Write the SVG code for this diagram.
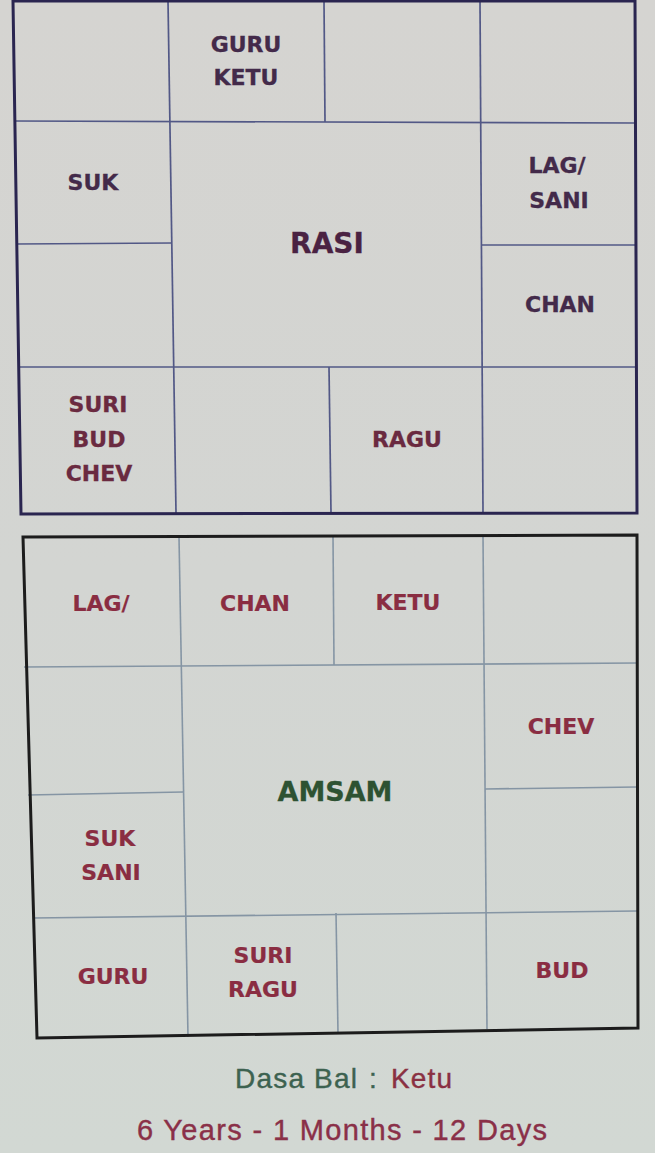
<svg xmlns="http://www.w3.org/2000/svg" width="655" height="1153" viewBox="0 0 655 1153">
<defs>
<linearGradient id="bg" x1="0" y1="0" x2="0" y2="1">
<stop offset="0" stop-color="#d5d4d1"/>
<stop offset="0.5" stop-color="#d3d5d2"/>
<stop offset="1" stop-color="#d2d8d3"/>
</linearGradient>
<style>
.outerA{fill:none;stroke:#2a2550;stroke-width:3}
.outerB{fill:none;stroke:#1c1c1c;stroke-width:3}
.gridA line{stroke:#525886;stroke-width:1.7}
.gridB line{stroke:#8595a4;stroke-width:1.6}
text{font-family:"DejaVu Sans","Verdana",sans-serif;font-weight:bold;text-anchor:middle}
.pa{font-size:22px;fill:#432a4a;stroke:#432a4a;stroke-width:0.3}
.pb{font-size:22px;fill:#6a2a40;stroke:#6a2a40;stroke-width:0.3}
.pc{font-size:22px;fill:#8a2d42;stroke:#8a2d42;stroke-width:0.2}
.foot{font-family:"Liberation Sans",Arial,sans-serif;font-weight:normal;text-anchor:start;stroke-width:0.4}
</style>
</defs>
<rect width="655" height="1153" fill="url(#bg)"/>

<!-- RASI chart -->
<g id="rasi-grid" class="gridA">
<line x1="168" y1="1" x2="176" y2="513"/>
<line x1="480" y1="1" x2="483" y2="513"/>
<line x1="324" y1="1" x2="325" y2="122"/>
<line x1="329" y1="367" x2="331" y2="513"/>
<line x1="14" y1="121" x2="636" y2="123"/>
<line x1="18" y1="367" x2="637" y2="367"/>
<line x1="16" y1="244" x2="172" y2="243"/>
<line x1="481" y1="245" x2="637" y2="245"/>
</g>
<polygon id="rasi-border" class="outerA" points="13,1 635,1 637,513 21,514"/>

<g id="rasi-r1c2"><text class="pa" x="246" y="52">GURU</text><text class="pa" x="246" y="85">KETU</text></g>
<g id="rasi-r2c1"><text class="pa" x="93" y="190">SUK</text></g>
<g id="rasi-r2c4"><text class="pa" x="557" y="173">LAG/</text><text class="pa" x="559" y="208">SANI</text></g>
<g id="rasi-center"><text x="327" y="253" fill="#4a2242" stroke="#4a2242" stroke-width="0.3" style="font-size:28px">RASI</text></g>
<g id="rasi-r3c4"><text class="pa" x="560" y="312">CHAN</text></g>
<g id="rasi-r4c1"><text class="pb" x="98" y="412">SURI</text><text class="pb" x="99" y="447">BUD</text><text class="pb" x="99" y="481">CHEV</text></g>
<g id="rasi-r4c3"><text class="pb" x="407" y="447">RAGU</text></g>

<!-- AMSAM chart -->
<g id="amsam-grid" class="gridB">
<line x1="179" y1="537" x2="188" y2="1037"/>
<line x1="483" y1="536" x2="487" y2="1029"/>
<line x1="333" y1="537" x2="334" y2="665"/>
<line x1="336" y1="913" x2="338" y2="1033"/>
<line x1="24" y1="667" x2="637" y2="663"/>
<line x1="33" y1="918" x2="637" y2="911"/>
<line x1="28" y1="795" x2="183" y2="792"/>
<line x1="485" y1="789" x2="637" y2="787"/>
</g>
<polygon id="amsam-border" class="outerB" points="23,537 637,535 638,1028 37,1038"/>

<g id="amsam-r1c1"><text class="pc" x="101" y="611">LAG/</text></g>
<g id="amsam-r1c2"><text class="pc" x="255" y="611">CHAN</text></g>
<g id="amsam-r1c3"><text class="pc" x="408" y="610">KETU</text></g>
<g id="amsam-r2c4"><text class="pc" x="561" y="734">CHEV</text></g>
<g id="amsam-center"><text x="335" y="801" fill="#2e5232" stroke="#2e5232" stroke-width="0.3" style="font-size:27px">AMSAM</text></g>
<g id="amsam-r3c1"><text class="pc" x="110" y="846">SUK</text><text class="pc" x="111" y="880">SANI</text></g>
<g id="amsam-r4c1"><text class="pc" x="113" y="984">GURU</text></g>
<g id="amsam-r4c2"><text class="pc" x="263" y="963">SURI</text><text class="pc" x="263" y="997">RAGU</text></g>
<g id="amsam-r4c4"><text class="pc" x="562" y="978">BUD</text></g>

<!-- footer -->
<g id="footer">
<text class="foot" x="235" y="1088" font-size="28" fill="#3d6250" stroke="#3d6250" textLength="122" lengthAdjust="spacing">Dasa Bal</text>
<text class="foot" x="369" y="1088" font-size="28" fill="#3d6250" stroke="#3d6250">:</text>
<text class="foot" x="391" y="1088" font-size="28" fill="#8a3042" stroke="#8a3042" textLength="61" lengthAdjust="spacing">Ketu</text>
<text class="foot" x="137" y="1140" font-size="29" fill="#8a3048" stroke="#8a3048" textLength="410" lengthAdjust="spacing">6 Years - 1 Months - 12 Days</text>
</g>
</svg>
